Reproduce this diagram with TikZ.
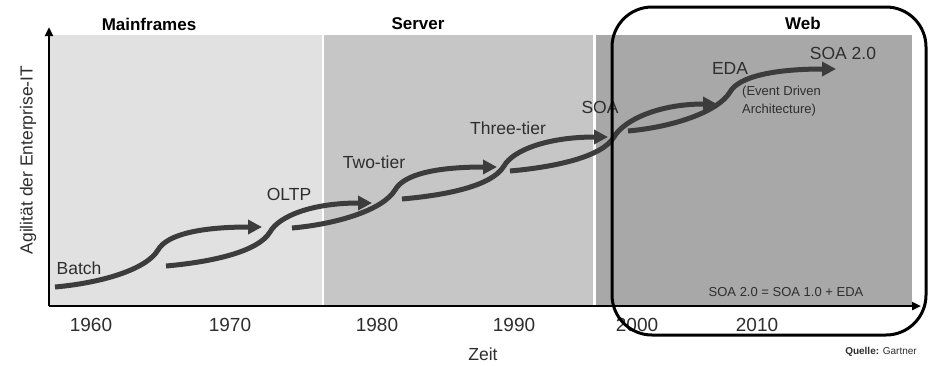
\documentclass[tikz,border=0pt]{standalone}
\usepackage{fontspec}
\setmainfont{Liberation Sans}
\usetikzlibrary{arrows.meta}
\definecolor{panelA}{HTML}{E1E1E1}
\definecolor{panelB}{HTML}{C6C6C6}
\definecolor{panelC}{HTML}{A8A8A8}
\definecolor{wave}{HTML}{3C3C3C}
\definecolor{ink}{HTML}{2E2E2E}
\tikzset{
  era/.style={font=\fontsize{17}{20}\selectfont\bfseries, text=black, inner sep=0pt},
  stage/.style={font=\fontsize{17.5}{20}\selectfont, text=ink, inner sep=0pt},
  year/.style={font=\fontsize{19}{22}\selectfont, text=ink, inner sep=0pt},
  note/.style={font=\fontsize{13}{18}\selectfont, text=ink, inner sep=0pt},
  axisline/.style={line width=2.4pt, black},
  wavearrow/.style={line width=5pt, wave, -{Triangle[length=14pt,width=14pt]}},
  wavepath/.style={line width=5pt, wave}
}
\newcommand{\wavestep}[3]{%
  \draw[wavearrow] (#1) .. controls +(45,4) and +(-12,-20) .. (#2)
    .. controls +(9,16) and +(-60,0) .. (#3);}
\begin{document}
\begin{tikzpicture}[x=1pt,y=1pt]
  \useasboundingbox (0,0) rectangle (944,-365);
  \fill[white] (0,0) rectangle (944,-365);

  % era backgrounds
  \fill[panelA] (49,-35) rectangle (322,-306);
  \fill[panelB] (324,-35) rectangle (593,-306);
  \fill[panelC] (596,-35) rectangle (912,-306);

  % era titles
  \node[era] (mainframes) at (149,-24) {Mainframes};
  \node[era] (server) at (418,-24) {Server};
  \node[era] (web) at (803,-23) {Web};

  % axes
  \coordinate (origin) at (49,-306);
  \coordinate (ytop) at (49,-27);
  \coordinate (xend) at (921,-306);
  \draw[axisline, -{Triangle[length=9pt,width=8pt]}] (origin) -- (ytop);
  \draw[axisline, -{Triangle[length=9pt,width=8pt]}] (origin) -- (xend);

  \node[stage, rotate=90] (ylabel) at (28,-160) {Agilität der Enterprise-IT};
  \node[stage] (zeit) at (483,-354) {Zeit};

  % years
  \node[year] (y1960) at (91,-325) {1960};
  \node[year] (y1970) at (230,-325) {1970};
  \node[year] (y1980) at (377,-325) {1980};
  \node[year] (y1990) at (514,-325) {1990};
  \node[year] (y2000) at (637,-325) {2000};
  \node[year] (y2010) at (757,-325) {2010};

  % evolution steps
  \coordinate (s1) at (55,-287);  \coordinate (m1) at (158,-250); \coordinate (e1) at (262,-227);
  \coordinate (s2) at (166,-266); \coordinate (m2) at (270,-232); \coordinate (e2) at (372,-203);
  \coordinate (s3) at (292,-228); \coordinate (m3) at (395,-190); \coordinate (e3) at (497,-167);
  \coordinate (s4) at (402,-199); \coordinate (m4) at (504,-166); \coordinate (e4) at (608,-137);
  \coordinate (s5) at (510,-171); \coordinate (m5) at (614,-137); \coordinate (e5) at (717,-104);
  \coordinate (s6) at (628,-131); \coordinate (m6) at (730,-92);  \coordinate (e6) at (836,-69);
  \wavestep{s1}{m1}{e1}
  \wavestep{s2}{m2}{e2}
  \wavestep{s3}{m3}{e3}
  \wavestep{s4}{m4}{e4}
  \wavestep{s5}{m5}{e5}
  \wavestep{s6}{m6}{e6}

  % stage labels
  \node[stage] (batch) at (79,-268) {Batch};
  \node[stage] (oltp) at (289,-194) {OLTP};
  \node[stage] (twotier) at (374,-162) {Two-tier};
  \node[stage] (threetier) at (508,-128) {Three-tier};
  \node[stage] (soa) at (600,-107) {SOA};
  \node[stage] (eda) at (730,-68) {EDA};
  \node[stage] (soa2) at (843,-53) {SOA 2.0};
  \node[note, align=left, anchor=north west] (edanote) at (742,-86) {(Event Driven\\Architecture)};
  \node[note] (formula) at (786,-292) {SOA 2.0 = SOA 1.0 + EDA};

  \node[font=\fontsize{10}{12}\selectfont, text=ink, inner sep=0pt] (source) at (881,-352) {\textbf{Quelle:} Gartner};

  % highlight frame around the web era
  \draw[line width=3pt, black, rounded corners=40pt] (612,-7) rectangle (926,-335);
\end{tikzpicture}
\end{document}
